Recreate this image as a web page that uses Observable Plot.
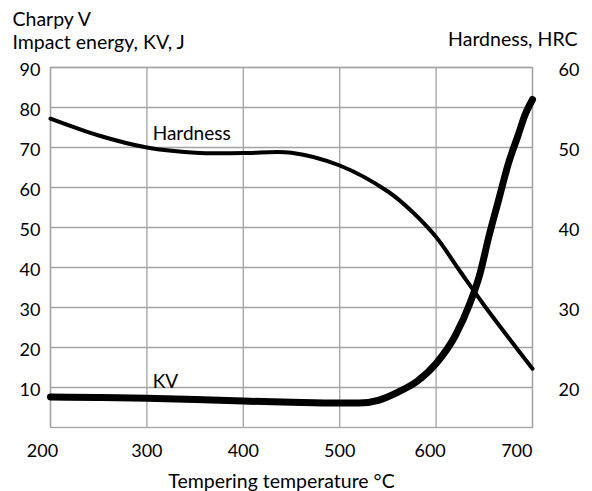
<!DOCTYPE html>
<html><head><meta charset="utf-8">
<script src="https://cdn.jsdelivr.net/npm/d3@7"></script>
<script src="https://cdn.jsdelivr.net/npm/@observablehq/plot@0.6"></script>
<style>body{margin:0;background:#fff;} svg{display:block}</style>
</head><body><div id="chart"></div>
<script>
// Charpy V impact energy (J) vs tempering temperature (°C)
const kvTemps = [200,250,300,350,400,450,500,520,540,560,580,600,620,635,645,655,665,675,685,692,700];
const kvValues = [7.6,7.5,7.3,7.0,6.6,6.3,6.1,6.1,6.8,8.8,11.5,16,23,31,38,48,57,66,73,78,82];
// Hardness (HRC) vs tempering temperature (°C)
const hrcTemps = [200,250,300,350,400,450,500,550,575,600,625,650,675,700];
const hrcValues = [53.6,51.5,50,49.35,49.3,49.35,47.75,44.5,42,38.8,34.5,30.25,26.25,22.35];
// tick labels
const xTicks = [200,300,400,500,600,700];
const leftTicks = [10,20,30,40,50,60,70,80,90];
const rightTicks = [20,30,40,50,60];
// curve labels
const curveLabels = ["Hardness","KV"];
const curveLabelX = [306,306];
const curveLabelY = [73.5,11.5];

const FONT = "Lato";
const FS = 18;
const TS = 19.5;
// right axis (HRC) maps onto the left axis (J): 20 HRC -> 10 J, 60 HRC -> 90 J
const hrcToLeft = h => 2*h - 30;
const leftToHrc = v => (v + 30)/2;

const kvData = kvTemps.map((t,i) => ({t, v: kvValues[i]}));
const hrcData = hrcTemps.map((t,i) => ({t, v: hrcToLeft(hrcValues[i])}));
const labelData = curveLabels.map((s,i) => ({s, t: curveLabelX[i], v: curveLabelY[i]}));

const grid = "#a3a3a3";
const chart = Plot.plot({
  width: 592, height: 491,
  marginLeft: 50, marginRight: 60, marginTop: 67, marginBottom: 64,
  style: {fontFamily: FONT, fontSize: FS + "px", color: "#000", background: "#fff"},
  x: {domain: [200,700]},
  y: {domain: [0,90]},
  marks: [
    Plot.gridX(xTicks, {stroke: grid, strokeOpacity: 1, strokeWidth: 1.3}),
    Plot.gridY(leftTicks, {stroke: grid, strokeOpacity: 1, strokeWidth: 1.3}),
    Plot.frame({stroke: grid, strokeWidth: 1.3}),
    Plot.axisY(leftTicks, {anchor: "left", tickSize: 0, tickPadding: 10, dy: 3, fontSize: FS, label: null}),
    Plot.axisY(rightTicks.map(hrcToLeft), {anchor: "right", tickSize: 0, tickPadding: 26, dy: 3, fontSize: FS, tickFormat: leftToHrc, label: null}),
    Plot.axisX([200], {anchor: "bottom", tickSize: 0, tickPadding: 17, dx: -8, fontSize: FS, label: null}),
    Plot.axisX([300,400,500], {anchor: "bottom", tickSize: 0, tickPadding: 17, fontSize: FS, label: null}),
    Plot.axisX([600], {anchor: "bottom", tickSize: 0, tickPadding: 17, dx: -6, fontSize: FS, label: null}),
    Plot.axisX([700], {anchor: "bottom", tickSize: 0, tickPadding: 17, textAnchor: "end", fontSize: FS, label: null}),
    Plot.line(hrcData, {x: "t", y: "v", stroke: "#000", strokeWidth: 4, curve: "catmull-rom"}),
    Plot.line(kvData, {x: "t", y: "v", stroke: "#000", strokeWidth: 7, curve: "monotone-x"}),
    Plot.text(labelData, {x: "t", y: "v", text: "s", textAnchor: "start", fontSize: 19, fill: "#000"}),
    Plot.text(["Charpy V"], {frameAnchor: "top-left", lineAnchor: "top", dx: -38, dy: -55, textAnchor: "start", fontSize: TS, fill: "#000"}),
    Plot.text(["Impact energy, KV, J"], {frameAnchor: "top-left", lineAnchor: "top", dx: -38, dy: -32, textAnchor: "start", fontSize: TS, fill: "#000"}),
    Plot.text(["Hardness, HRC"], {frameAnchor: "top-right", lineAnchor: "top", dx: 45, dy: -35, textAnchor: "end", fontSize: TS, fill: "#000"}),
    Plot.text(["Tempering temperature °C"], {frameAnchor: "bottom", lineAnchor: "bottom", dx: -10, dy: 60, fontSize: TS, fill: "#000"})
  ]
});
document.getElementById("chart").appendChild(chart);
</script>
</body></html>
